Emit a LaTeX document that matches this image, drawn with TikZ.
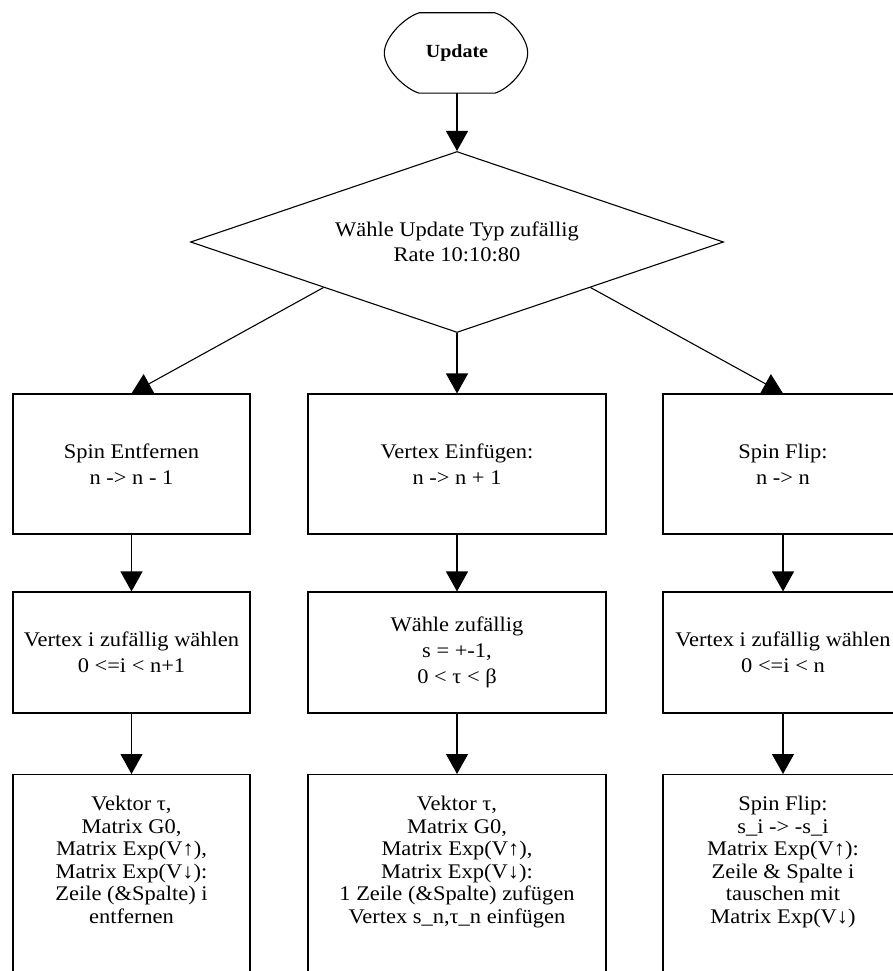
\documentclass[tikz,border=0pt]{standalone}
\usepackage{fontspec}
\setmainfont[FakeStretch=1.08]{Liberation Serif}
\usetikzlibrary{shapes.geometric,arrows.meta,calc}

\begin{document}
\begin{tikzpicture}[x=1pt,y=-1pt,
  outline/.style={line width=1.1pt},
  flow/.style={line width=1.1pt,-{Triangle[length=20pt,width=22pt]}},
  stepbox/.style={draw,line width=1.1pt,rectangle,inner sep=0pt},
  txt/.style={align=center,font={\fontsize{20.8}{26}\selectfont}},
  txtsmall/.style={align=center,inner sep=0pt,font={\fontsize{20.8}{22.5}\selectfont}},
  decision/.style={draw,line width=1.1pt,diamond,aspect=2.94,inner sep=0pt,
    minimum width=533pt,minimum height=181pt,
    align=center,font={\fontsize{20.8}{25}\selectfont}},
  terminal/.style={minimum width=75pt,minimum height=80pt,inner sep=0pt,
    font={\fontsize{18.5}{22}\selectfont\bfseries}}
]
\useasboundingbox (0,0) rectangle (893,971);
\clip (0,0) rectangle (893,971);

% start terminal: flat top and bottom, bulging sides
\node[terminal] (upd) at (457,53) {Update};
\draw[outline] (upd.north west) -- (upd.north east)
  .. controls +(14,4) and +(0,-16) .. ([xshift=33pt]upd.east)
  .. controls +(0,16) and +(14,-4) .. (upd.south east)
  -- (upd.south west)
  .. controls +(-14,-4) and +(0,16) .. ([xshift=-35pt]upd.west)
  .. controls +(0,-16) and +(-14,4) .. cycle;

% decision
\node[decision] (dia) at (457,242) {Wähle Update Typ zufällig\\Rate 10:10:80};

% first row
\node[stepbox,minimum width=237pt,minimum height=140pt,txt] (l1) at (131.5,464)
  {Spin Entfernen\\n -> n - 1};
\node[stepbox,minimum width=298pt,minimum height=140pt,txt] (m1) at (457,464)
  {Vertex Einfügen:\\n -> n + 1};
\node[stepbox,minimum width=240pt,minimum height=140pt,txt] (r1) at (783,464)
  {Spin Flip:\\n -> n};

% second row
\node[stepbox,minimum width=237pt,minimum height=121pt,txt] (l2) at (131.5,652.5)
  {Vertex i zufällig wählen\\0 <=i < n+1};
\node[stepbox,minimum width=298pt,minimum height=121pt,txt] (m2) at (457,652.5)
  {Wähle zufällig\\s = +-1,\\0 < τ < β};
\node[stepbox,minimum width=240pt,minimum height=121pt,txt] (r2) at (783,652.5)
  {Vertex i zufällig wählen\\0 <=i < n};

% third row (boxes run past the lower edge)
\node[stepbox,minimum width=237pt,minimum height=240pt,anchor=north] (l3) at (131.5,774) {};
\node[stepbox,minimum width=298pt,minimum height=240pt,anchor=north] (m3) at (457,774) {};
\node[stepbox,minimum width=240pt,minimum height=240pt,anchor=north] (r3) at (783,774) {};
\node[txtsmall,anchor=north] (l3t) at ([yshift=-22pt]l3.north)
  {Vektor τ,\\Matrix G0,\\Matrix Exp(V↑),\\Matrix Exp(V↓):\\Zeile (\&Spalte) i\\entfernen};
\node[txtsmall,anchor=north] (m3t) at ([yshift=-22pt]m3.north)
  {Vektor τ,\\Matrix G0,\\Matrix Exp(V↑),\\Matrix Exp(V↓):\\1 Zeile (\&Spalte) zufügen\\Vertex s\_n,τ\_n einfügen};
\node[txtsmall,anchor=north] (r3t) at ([yshift=-22pt]r3.north)
  {Spin Flip:\\s\_i -> -s\_i\\Matrix Exp(V↑):\\Zeile \& Spalte i\\tauschen mit\\Matrix Exp(V↓)};

% connectors
\draw[flow] (upd.south) -- (dia.north);
\draw[flow] ($(dia.west)!0.5!(dia.south)$) -- (l1.north);
\draw[flow] (dia.south) -- (m1.north);
\draw[flow] ($(dia.east)!0.5!(dia.south)$) -- (r1.north);
\draw[flow] (l1.south) -- (l2.north);
\draw[flow] (m1.south) -- (m2.north);
\draw[flow] (r1.south) -- (r2.north);
\draw[flow] (l2.south) -- (l3.north);
\draw[flow] (m2.south) -- (m3.north);
\draw[flow] (r2.south) -- (r3.north);
\end{tikzpicture}
\end{document}
